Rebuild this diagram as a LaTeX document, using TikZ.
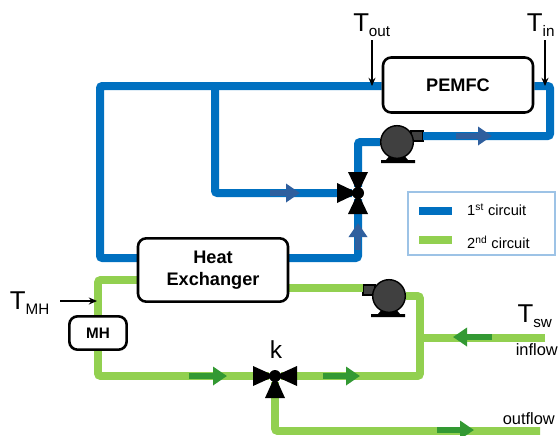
\documentclass[tikz,border=0pt]{standalone}
\usepackage{fontspec}
\setmainfont{Liberation Sans}
\usetikzlibrary{arrows.meta,backgrounds,positioning}

\definecolor{pipeblue}{HTML}{0070C0}
\definecolor{pipegreen}{HTML}{92D050}
\definecolor{flowblue}{HTML}{2F5F9E}
\definecolor{flowgreen}{HTML}{339933}
\definecolor{legendline}{HTML}{9DC3E6}
\definecolor{pumpgray}{HTML}{404040}

\newcommand{\fsize}[1]{\fontsize{#1}{#1}\selectfont}

\tikzset{
  unit/.style={draw=black, line width=2.2pt, rounded corners=7pt, fill=white, align=center, font=\fsize{15.5}\bfseries, inner sep=0pt},
  pipeB/.style={draw=pipeblue, line width=0.24cm, rounded corners=2pt},
  pipeG/.style={draw=pipegreen, line width=0.23cm, rounded corners=2pt},
  flowB/.style={draw=flowblue, line width=0.16cm, -{Triangle[length=0.42cm,width=0.54cm]}},
  flowG/.style={draw=flowgreen, line width=0.16cm, -{Triangle[length=0.42cm,width=0.54cm]}},
  probe/.style={draw=black, line width=1pt, -{Stealth[length=7pt,width=6pt]}},
  tlabel/.style={font=\fsize{22}, inner sep=0pt},
  small/.style={font=\fsize{14}, inner sep=0pt},
  pumpbody/.style={circle, draw=black, line width=1.2pt, fill=pumpgray, minimum size=0.98cm, inner sep=0pt},
  valvehub/.style={circle, fill=black, minimum size=0.36cm, inner sep=0pt},
}

\begin{document}
\begin{tikzpicture}[x=0.03cm, y=-0.03cm]
\useasboundingbox (0,0) rectangle (558,435);

\node[unit, minimum width=4.5cm, minimum height=1.65cm] (pemfc) at (458,85) {PEMFC};
\node[unit, minimum width=4.5cm, minimum height=1.9cm] (hx) at (213,270) {Heat\\[3pt]Exchanger};
\node[unit, font=\fsize{13}\bfseries, minimum width=1.72cm, minimum height=1cm] (mh) at (98,333) {MH};

% pumps
\node[pumpbody] (pumpA) at (397,142) {};
\node[pumpbody] (pumpB) at (389,296) {};
\foreach \p/\s in {pumpA/1,pumpB/-1} {
  \begin{scope}[shift={(\p)}, xscale=\s, on background layer]
    \fill[black] (-6,12) -- (6,12) -- (11,18) -- (18,18) -- (18,21) -- (-16,21) -- (-16,18) -- (-11,18) -- cycle;
    \draw[black, fill=pumpgray, line width=1.2pt] (14,-11) rectangle (26,-1);
  \end{scope}
}
\coordinate (pumpAout) at (423,136);
\coordinate (pumpBout) at (363,288);

% valves
\node[valvehub] (valveA) at (358,193) {};
\node[valvehub] (valveK) at (275,376) {};
\node[tlabel, font=\fsize{21}] (klabel) at (276,350) {k};
\foreach \a in {90,180,270}
  \fill[black, shift={(valveA)}, rotate=\a] (0,0) -- (21,-10) -- (21,10) -- cycle;
\foreach \a in {0,180,270}
  \fill[black, shift={(valveK)}, rotate=\a] (0,0) -- (22,-10) -- (22,10) -- cycle;

% pipe corners
\coordinate (hxBL) at (138,258);
\coordinate (hxBR) at (288,258);
\coordinate (hxGL) at (138,280);
\coordinate (hxGR) at (288,288);
\coordinate (branch) at (215,86);
\coordinate (pemfcL) at (pemfc.west |- branch);
\coordinate (pemfcR) at (pemfc.east |- branch);
\coordinate (inflow) at (545,338);
\coordinate (junction) at (420,338);
\coordinate (outflow) at (540,431);

\begin{scope}[on background layer]
  \draw[pipeB] (pemfcL) -- (100,86) -- (100,258) -- (hxBL);
  \draw[pipeB] (branch) -- (branch |- valveA) -- (valveA);
  \draw[pipeB] (hxBR) -- (358,258) -- (valveA);
  \draw[pipeB] (valveA) -- (358,142) -- (pumpA);
  \draw[pipeB] (pumpAout) -- (550,136) -- (550,86) -- (pemfcR);
  \draw[pipeG] (hxGL) -- (98,280) -- (mh.north);
  \draw[pipeG] (mh.south) -- (98,376) -- (valveK);
  \draw[pipeG] (valveK) -- (420,376) -- (420,296) -- (pumpB);
  \draw[pipeG] (hxGR) -- (pumpBout);
  \draw[pipeG] (inflow) -- (junction);
  \draw[pipeG] (valveK) -- (275,431) -- (outflow);
\end{scope}

% flow arrows
\foreach \n/\xa/\ya/\xb/\yb/\st in {
  fa/456/136/492/136/flowB, fb/270/193/300/193/flowB, fc/358/250/358/223/flowB,
  fd/189/376/227/376/flowG, fe/323/376/360/376/flowG, ff/492/337/453/337/flowG, fg/437/430/474/430/flowG} {
  \coordinate (\n s) at (\xa,\ya);
  \coordinate (\n e) at (\xb,\yb);
  \draw[\st] (\n s) -- (\n e);
}

% temperature labels
\node[tlabel] (tout) at (372,25) {T\textsubscript{\fsize{13}\raisebox{-1.5pt}{out}}};
\node[tlabel] (tin) at (541,25) {T\textsubscript{\fsize{13}\raisebox{-1.5pt}{in}}};
\node[tlabel] (tmh) at (30,303) {T\textsubscript{\fsize{13}\raisebox{-1.5pt}{MH}}};
\node[tlabel] (tsw) at (535,316) {T\textsubscript{\fsize{13}\raisebox{-1.5pt}{sw}}};
\coordinate (toutp) at (372,86);
\coordinate (tinp) at (545,86);
\coordinate (tmhp) at (97,301);
\coordinate (tmhs) at (60,301);
\draw[probe] (372,40) -- (toutp);
\draw[probe] (545,40) -- (tinp);
\draw[probe] (tmhs) -- (tmhp);

\node[small, anchor=east] (inlabel) at (558,350) {inflow};
\node[small, anchor=east] (outlabel) at (555,419) {outflow};

% legend
\node[draw=legendline, line width=1.6pt, minimum width=4.41cm, minimum height=1.89cm, inner sep=0pt] (legend) at (481.5,223.5) {};
\coordinate (l1a) at (419,211);
\coordinate (l1b) at (452,211);
\coordinate (l2a) at (419,240);
\coordinate (l2b) at (452,240);
\draw[pipeB, rounded corners=0pt] (l1a) -- (l1b);
\draw[pipeG, rounded corners=0pt] (l2a) -- (l2b);
\node[font=\fsize{12.5}, anchor=west, inner sep=0pt] (l1) at (467,210) {1\textsuperscript{st} circuit};
\node[font=\fsize{12.5}, anchor=west, inner sep=0pt] (l2) at (467,242) {2\textsuperscript{nd} circuit};
\end{tikzpicture}
\end{document}
